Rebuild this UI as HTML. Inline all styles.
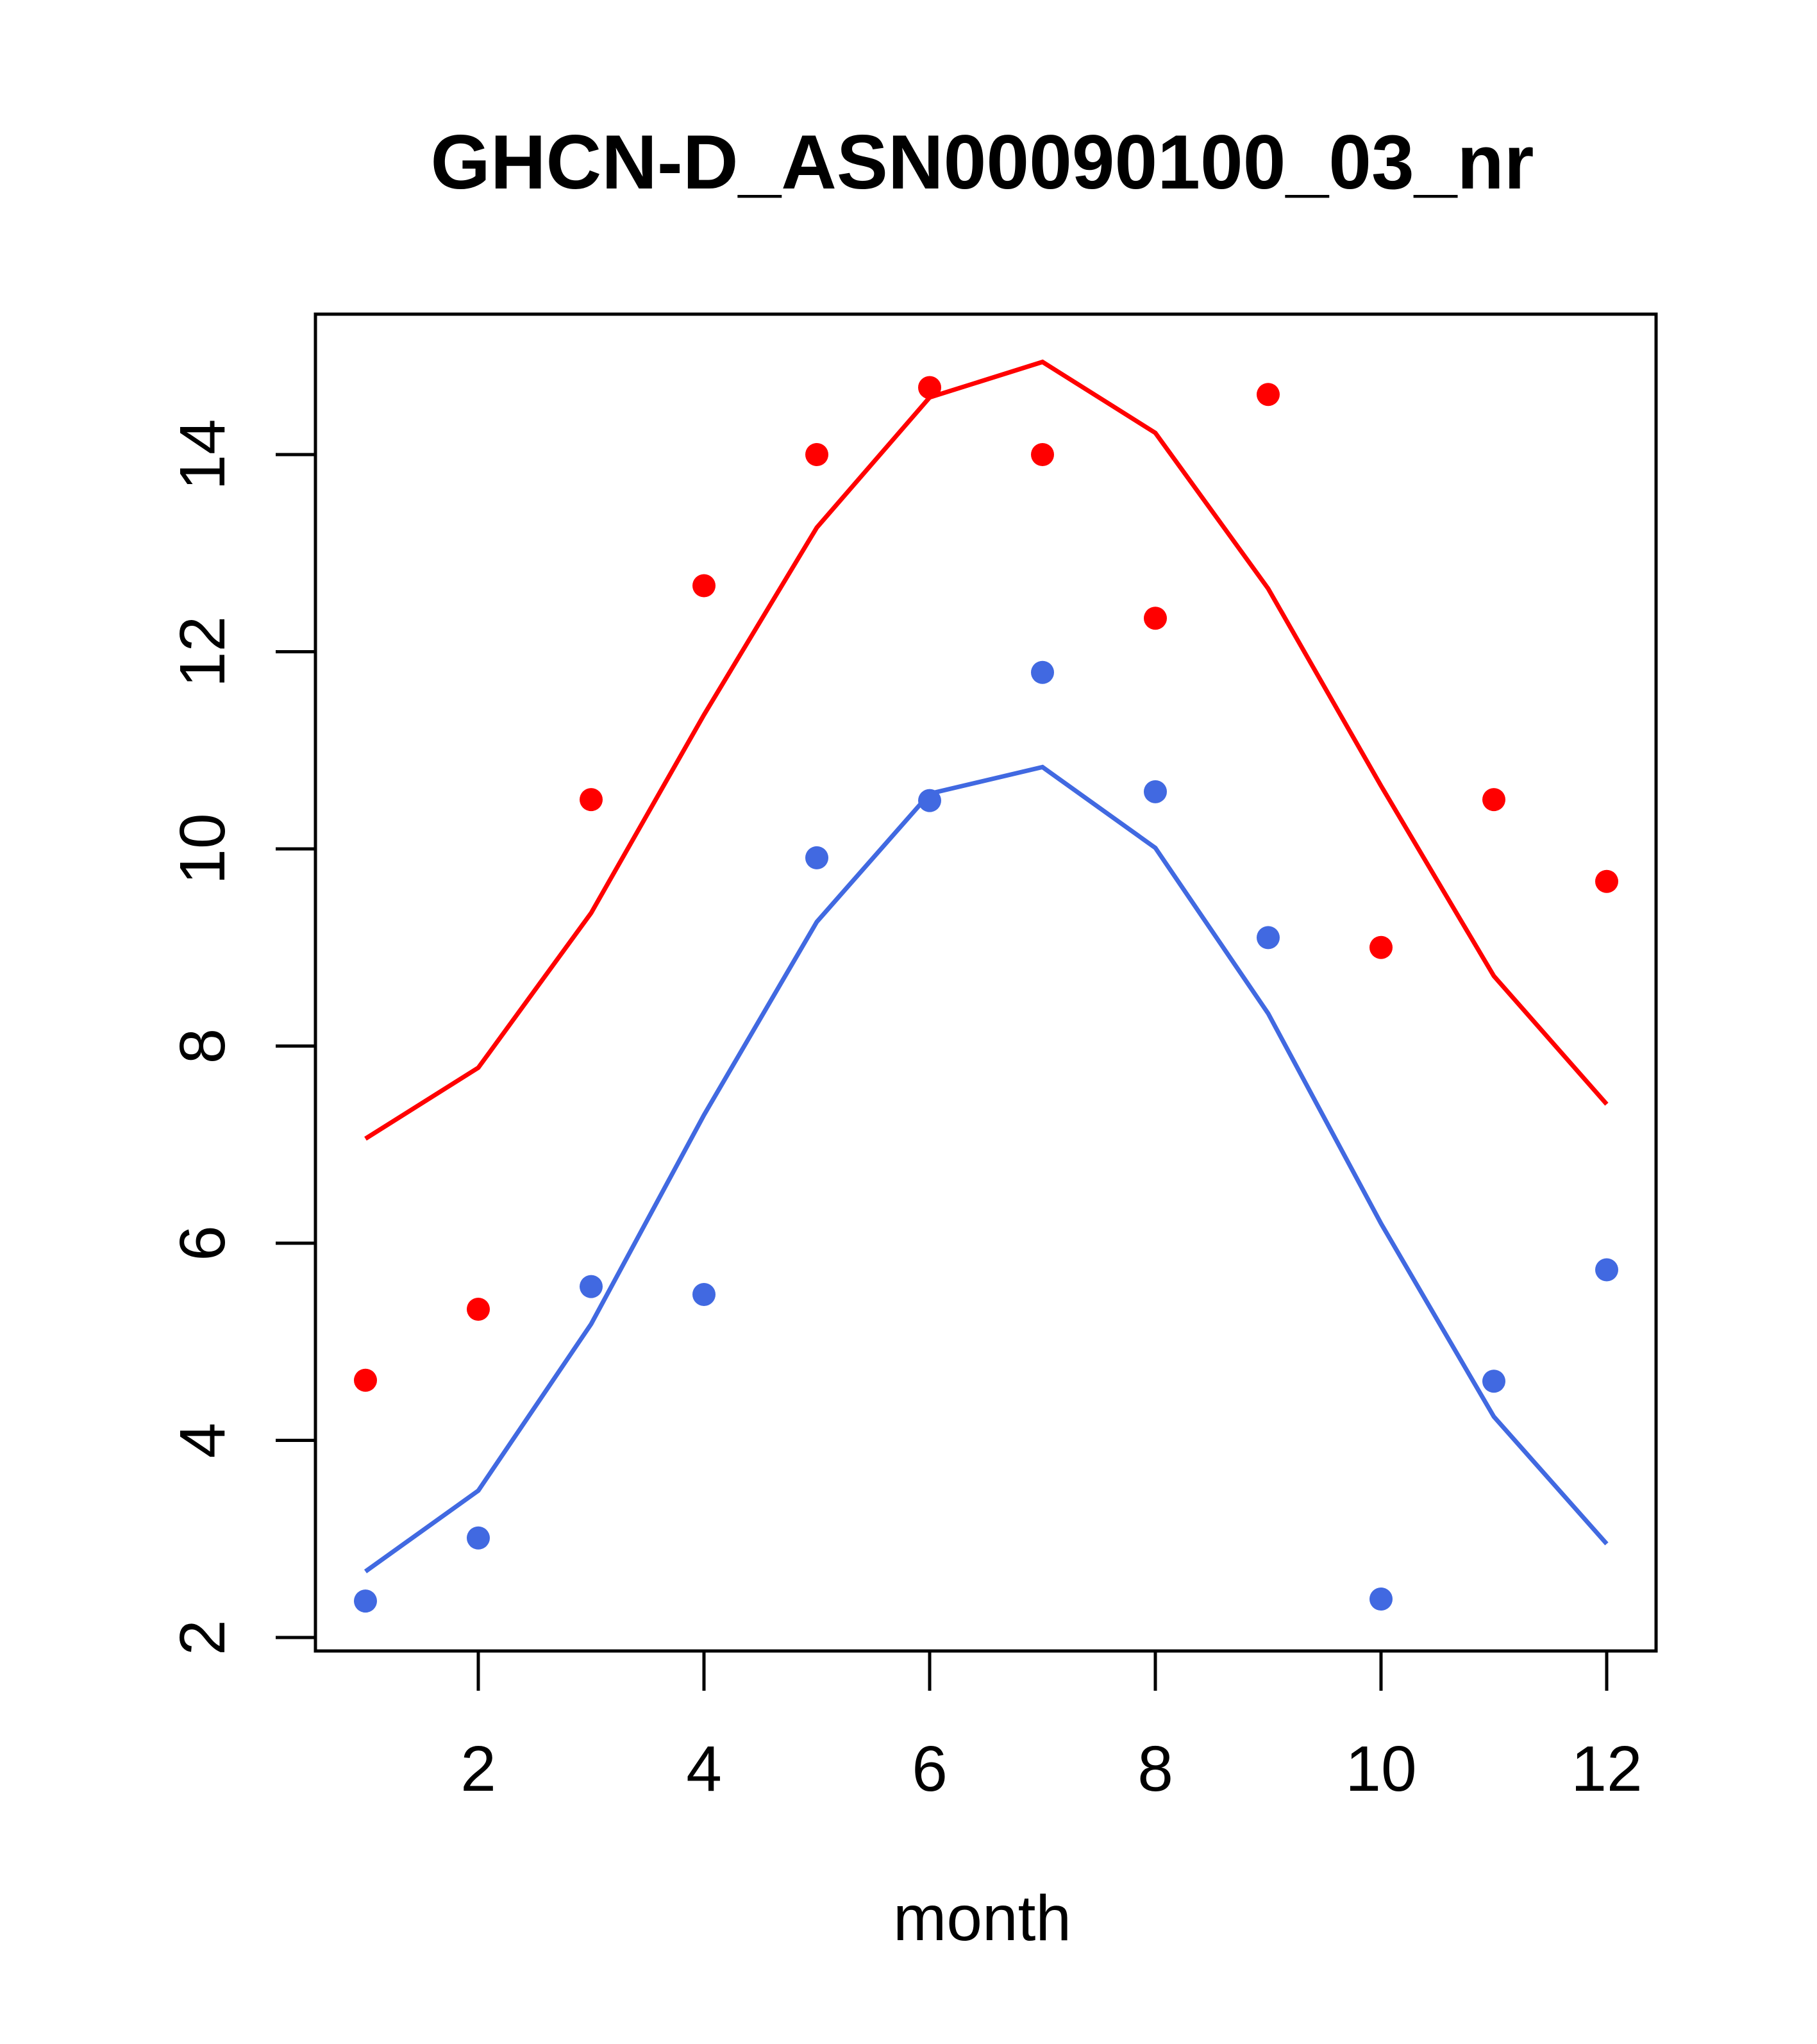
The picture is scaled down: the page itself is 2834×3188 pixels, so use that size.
<!DOCTYPE html>
<html><head><meta charset="utf-8"><style>body{margin:0;background:#fff}svg{display:block}</style></head>
<body>
<svg id="chart" width="2834" height="3188" xmlns="http://www.w3.org/2000/svg" font-family="Liberation Sans, sans-serif">
<rect width="2834" height="3188" fill="#fff"/>
<text x="1532" y="294" font-size="120" font-weight="bold" text-anchor="middle">GHCN-D_ASN00090100_03_nr</text>
<text x="1532" y="3026" font-size="100" text-anchor="middle">month</text>
<g id="marks"></g>
<rect x="492" y="490" width="2091" height="2085" fill="none" stroke="#000" stroke-width="5"/>
</svg>
<script>
const months=[1,2,3,4,5,6,7,8,9,10,11,12];
const redPoints=[4.61,5.33,10.5,12.67,14.0,14.68,14.0,12.34,14.61,9.0,10.5,9.67];
const bluePoints=[2.37,3.01,5.56,5.48,9.91,10.49,11.79,10.58,9.10,2.39,4.60,5.73];
const redLine=[7.06,7.78,9.35,11.36,13.26,14.58,14.94,14.22,12.64,10.64,8.71,7.41];
const blueLine=[2.67,3.49,5.18,7.30,9.26,10.56,10.83,10.01,8.33,6.20,4.24,2.95];
const xTicks=[2,4,6,8,10,12];
const yTicks=[2,4,6,8,10,12,14];
const NS="http://www.w3.org/2000/svg";
const sx=m=>570+(m-1)*(2506-570)/11;
const sy=v=>2554-(v-2)*(2554-709)/12;
const g=document.getElementById('marks');
function mk(t,a){const e=document.createElementNS(NS,t);for(const k in a)e.setAttribute(k,a[k]);g.appendChild(e);return e;}
xTicks.forEach(t=>{
 const l=mk('line',{x1:sx(t),x2:sx(t),y1:2575,y2:2637,stroke:'#000','stroke-width':5});
 
 
 const tx=mk('text',{x:sx(t),y:2793,'font-size':100,'text-anchor':'middle'});tx.textContent=t;
 
 
});
yTicks.forEach(t=>{
 const l=mk('line',{x1:430,x2:492,y1:sy(t),y2:sy(t),stroke:'#000','stroke-width':5});
 
 
 const tx=mk('text',{x:0,y:0,'font-size':100,'text-anchor':'middle',transform:`translate(350,${sy(t)}) rotate(-90)`});tx.textContent=t;
 
 
});
function line(vals,col,name){
 const p=mk('polyline',{points:months.map((m,i)=>sx(m)+','+sy(vals[i])).join(' '),fill:'none',stroke:col,'stroke-width':7});
 
 
}
function pts(vals,col,name){
 months.forEach((m,i)=>{const c=mk('circle',{cx:sx(m),cy:sy(vals[i]),r:18,fill:col});
 
 });
}
line(redLine,'#ff0000','red-trend-line');
line(blueLine,'#4169e1','blue-trend-line');
pts(redPoints,'#ff0000','red-point');
pts(bluePoints,'#4169e1','blue-point');
</script>
</body></html>
